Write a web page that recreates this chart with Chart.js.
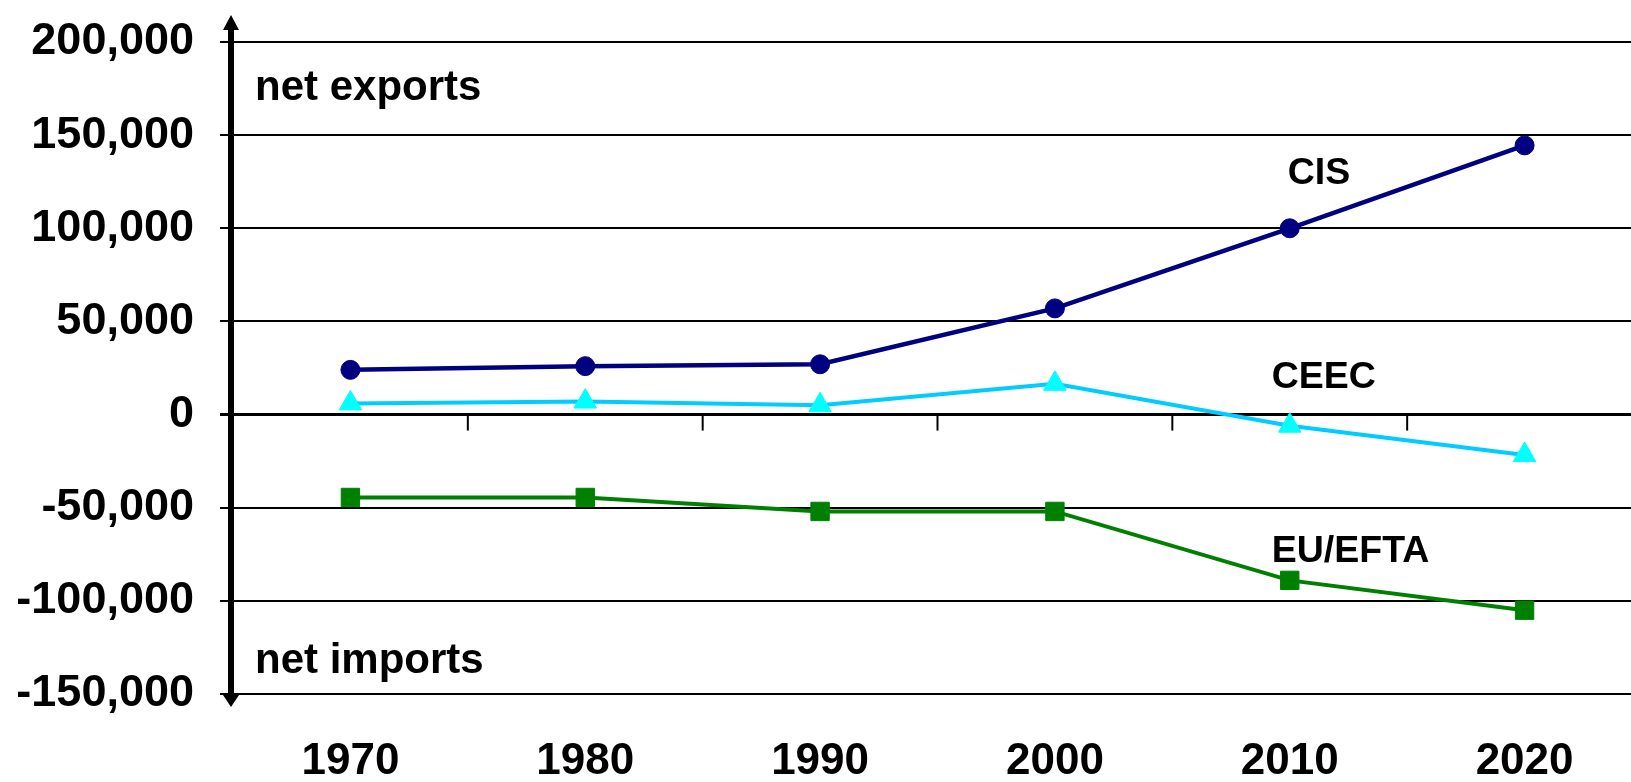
<!DOCTYPE html>
<html>
<head>
<meta charset="utf-8">
<script src="https://cdn.jsdelivr.net/npm/chart.js@4"></script>
<style>
  html, body { margin: 0; padding: 0; background: #fff; overflow: hidden; width: 1631px; height: 782px; }
  #c { display: block; }
</style>
</head>
<body>
<canvas id="c" width="1642" height="782"></canvas>
<script>
// Net trade balance by region
const years = ['1970', '1980', '1990', '2000', '2010', '2020'];
const cis = [24000, 26000, 27000, 57000, 100000, 144500];
const ceec = [6000, 7000, 5000, 16500, -6000, -21700];
const euEfta = [-44500, -44500, -52000, -52000, -89000, -105000];
const yTickValues = [-150000, -100000, -50000, 0, 50000, 100000, 150000, 200000];

// Text notes placed in data space: category index (+ pixel nudge) and value
const notes = [
  { text: 'net exports', index: -0.5, dx: 22, value: 168800, size: 42 },
  { text: 'net imports', index: -0.5, dx: 22, value: -138500, size: 42 },
  { text: 'CIS', index: 4, dx: -2, value: 124000, size: 37.5 },
  { text: 'CEEC', index: 4, dx: -18, value: 14400, size: 37.5 },
  { text: 'EU/EFTA', index: 4, dx: -18, value: -79000, size: 37.5 }
];

const FONT = "'Liberation Sans', Arial, sans-serif";

const decorations = {
  id: 'decorations',
  beforeDatasetsDraw(chart) {
    const { ctx, chartArea, scales: { x, y } } = chart;
    ctx.save();
    // vertical axis with arrow heads at both ends
    const ax = chartArea.left - 2;
    const topTip = y.getPixelForValue(y.max) - 27;
    const botTip = y.getPixelForValue(y.min) + 13;
    ctx.strokeStyle = '#000';
    ctx.fillStyle = '#000';
    ctx.lineWidth = 6;
    ctx.beginPath();
    ctx.moveTo(ax, topTip + 12);
    ctx.lineTo(ax, botTip - 10);
    ctx.stroke();
    ctx.beginPath();
    ctx.moveTo(ax, topTip);
    ctx.lineTo(ax - 8, topTip + 15);
    ctx.lineTo(ax + 8, topTip + 15);
    ctx.closePath();
    ctx.fill();
    ctx.beginPath();
    ctx.moveTo(ax, botTip);
    ctx.lineTo(ax - 8, botTip - 12);
    ctx.lineTo(ax + 8, botTip - 12);
    ctx.closePath();
    ctx.fill();
    // category boundary ticks hanging below the zero line
    const y0 = y.getPixelForValue(0);
    const step = x.getPixelForTick(1) - x.getPixelForTick(0);
    ctx.lineWidth = 2;
    for (let i = 0; i < years.length; i++) {
      const px = x.getPixelForTick(i) + step / 2;
      ctx.beginPath();
      ctx.moveTo(px, y0);
      ctx.lineTo(px, y0 + 16);
      ctx.stroke();
    }
    ctx.restore();
  },
  afterDraw(chart) {
    const { ctx, scales: { x, y } } = chart;
    const step = x.getPixelForTick(1) - x.getPixelForTick(0);
    ctx.save();
    ctx.fillStyle = '#000';
    ctx.textAlign = 'left';
    ctx.textBaseline = 'alphabetic';
    for (const n of notes) {
      ctx.font = `bold ${n.size}px ${FONT}`;
      const px = x.getPixelForTick(0) + n.index * step + n.dx;
      ctx.fillText(n.text, px, y.getPixelForValue(n.value));
    }
    ctx.restore();
  }
};

new Chart(document.getElementById('c'), {
  type: 'line',
  data: {
    labels: years,
    datasets: [
      {
        label: 'CIS', data: cis,
        borderColor: '#000080', backgroundColor: '#000080',
        borderWidth: 4.5, pointStyle: 'circle', pointRadius: 9.5, pointBorderWidth: 1,
        pointBackgroundColor: '#000080', pointBorderColor: '#000080'
      },
      {
        label: 'CEEC', data: ceec,
        borderColor: '#00CCFF', backgroundColor: '#00FFFF',
        borderWidth: 4, pointStyle: 'triangle', pointRadius: 13, pointBorderWidth: 1,
        pointBackgroundColor: '#00FFFF', pointBorderColor: '#00FFFF'
      },
      {
        label: 'EU/EFTA', data: euEfta,
        borderColor: '#008000', backgroundColor: '#008000',
        borderWidth: 4, pointStyle: 'rect', pointRadius: 13, pointBorderWidth: 1,
        pointBackgroundColor: '#008000', pointBorderColor: '#008000'
      }
    ]
  },
  options: {
    responsive: false,
    animation: false,
    devicePixelRatio: 1,
    layout: { autoPadding: false, padding: { top: 42, left: 0, right: 0, bottom: 0 } },
    elements: { line: { tension: 0 } },
    datasets: { line: { clip: false } },
    plugins: { legend: { display: false }, tooltip: { enabled: false } },
    scales: {
      x: {
        type: 'category',
        offset: true,
        grid: { display: false },
        border: { display: false },
        ticks: {
          color: '#000',
          padding: 33,
          maxRotation: 0,
          font: { family: FONT, size: 44, weight: 'bold' }
        },
        afterFit(scale) {
          scale.height = 88;
          scale.paddingLeft = 0;
          scale.paddingRight = 0;
        }
      },
      y: {
        min: yTickValues[0],
        max: yTickValues[yTickValues.length - 1],
        afterBuildTicks(scale) { scale.ticks = yTickValues.map(v => ({ value: v })); },
        grid: {
          color: '#000',
          lineWidth: c => (c.tick && c.tick.value === 0 ? 3 : 2),
          tickLength: 13
        },
        border: { display: false },
        ticks: {
          color: '#000',
          padding: 26,
          font: { family: FONT, size: 45, weight: 'bold' },
          callback: v => Number(v).toLocaleString('en-US')
        },
        afterFit(scale) {
          scale.width = 233;
          scale.paddingTop = 0;
          scale.paddingBottom = 0;
        }
      }
    }
  },
  plugins: [decorations]
});
</script>
</body>
</html>
